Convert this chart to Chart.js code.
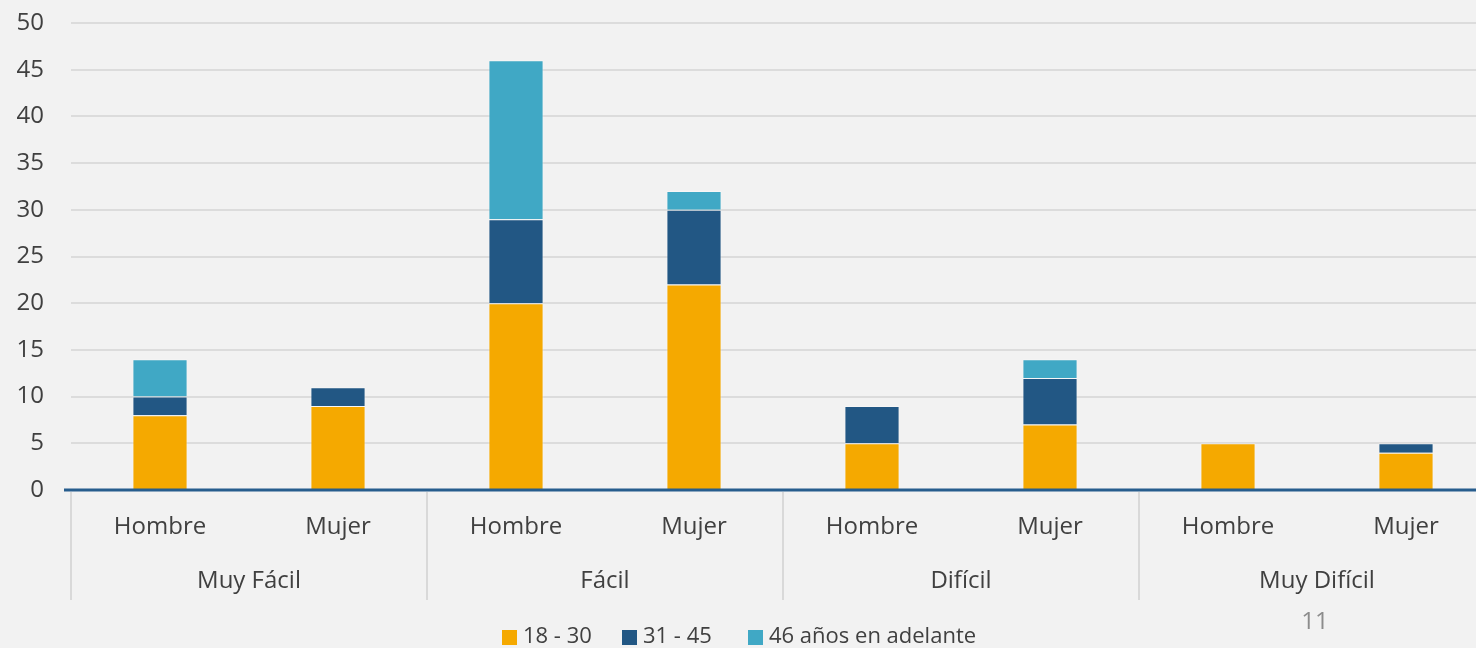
<!DOCTYPE html>
<html>
<head>
<meta charset="utf-8">
<script src="https://cdn.jsdelivr.net/npm/chart.js@4.4.0/dist/chart.umd.min.js"></script>
<style>
  html, body { margin: 0; padding: 0; background: #f2f2f2; overflow: hidden; }
  #wrap { width: 1500px; height: 648px; position: relative; }
</style>
</head>
<body>
<div id="wrap"><canvas id="chart" width="1500" height="648"></canvas></div>
<script>
// categories (two levels)
const sexes = ['Hombre', 'Mujer', 'Hombre', 'Mujer', 'Hombre', 'Mujer', 'Hombre', 'Mujer'];
const groups = ['Muy Fácil', 'Fácil', 'Difícil', 'Muy Difícil'];

// series values
const age18to30 = [8, 9, 20, 22, 5, 7, 5, 4];
const age31to45 = [2, 2, 9, 8, 4, 5, 0, 1];
const age46plus = [4, 0, 17, 2, 0, 2, 0, 0];

const seriesNames = ['18 - 30', '31 - 45', '46 años en adelante'];
const seriesColors = ['#f5a900', '#225784', '#40a8c5'];
const yTicks = [0, 5, 10, 15, 20, 25, 30, 35, 40, 45, 50];

const textColor = '#404040';
const fontFamily = '"Open Sans", "DejaVu Sans", sans-serif';

// draws the two-level category axis, separators, legend and page number
const extrasPlugin = {
    id: 'extras',
    afterDraw(chart) {
        const ctx = chart.ctx;
        const xs = chart.scales.x;
        const area = chart.chartArea;
        const step = xs.getPixelForValue(1) - xs.getPixelForValue(0);
        ctx.save();

        // axis line
        ctx.strokeStyle = '#275d8d';
        ctx.lineWidth = 3;
        ctx.beginPath();
        ctx.moveTo(64, area.bottom);
        ctx.lineTo(area.right, area.bottom);
        ctx.stroke();

        // separators between groups
        ctx.strokeStyle = '#d9d9d9';
        ctx.lineWidth = 2;
        for (let g = 0; g < groups.length; g++) {
            const x = Math.round(xs.getPixelForValue(g * 2) - step / 2);
            ctx.beginPath();
            ctx.moveTo(x, area.bottom + 2);
            ctx.lineTo(x, 600);
            ctx.stroke();
        }

        ctx.fillStyle = textColor;
        ctx.font = '24px ' + fontFamily;
        ctx.textAlign = 'center';
        ctx.textBaseline = 'middle';
        sexes.forEach(function (s, i) {
            ctx.fillText(s, xs.getPixelForValue(i), 527);
        });
        groups.forEach(function (g, i) {
            const x = (xs.getPixelForValue(i * 2) + xs.getPixelForValue(i * 2 + 1)) / 2;
            ctx.fillText(g, x, 581);
        });

        // legend
        const legendX = [502, 622, 748];
        ctx.font = '22px ' + fontFamily;
        ctx.textAlign = 'left';
        chart.data.datasets.forEach(function (ds, i) {
            ctx.fillStyle = ds.backgroundColor;
            ctx.fillRect(legendX[i], 630, 15, 15);
            ctx.fillStyle = textColor;
            ctx.fillText(ds.label, legendX[i] + 21, 637);
        });

        // page number
        ctx.fillStyle = '#8c8c8c';
        ctx.font = '24px ' + fontFamily;
        ctx.textAlign = 'center';
        ctx.fillText('11', 1315, 622);
        ctx.restore();
    }
};

const ctx = document.getElementById('chart').getContext('2d');
new Chart(ctx, {
    type: 'bar',
    data: {
        labels: sexes,
        datasets: [age18to30, age31to45, age46plus].map(function (vals, i) {
            return {
                label: seriesNames[i],
                data: vals,
                backgroundColor: seriesColors[i],
                borderColor: 'rgba(255,255,255,0.35)',
                borderWidth: 1,
                categoryPercentage: 1,
                barPercentage: 0.31
            };
        })
    },
    options: {
        responsive: false,
        animation: false,
        layout: { padding: { top: 23, bottom: 158, left: 0, right: 5 } },
        plugins: {
            legend: { display: false },
            tooltip: { enabled: false }
        },
        scales: {
            x: {
                stacked: true,
                display: false
            },
            y: {
                stacked: true,
                min: 0,
                max: 50,
                afterBuildTicks: function (scale) {
                    scale.ticks = yTicks.map(function (v) { return { value: v }; });
                },
                afterFit: function (scale) {
                    scale.width = 71;
                    scale.paddingTop = 0;
                    scale.paddingBottom = 0;
                },
                grid: { color: '#dcdcdc', lineWidth: 2, drawTicks: false },
                border: { display: false },
                ticks: {
                    color: textColor,
                    padding: 27,
                    font: { family: fontFamily, size: 24 }
                }
            }
        }
    },
    plugins: [extrasPlugin]
});
</script>
</body>
</html>
